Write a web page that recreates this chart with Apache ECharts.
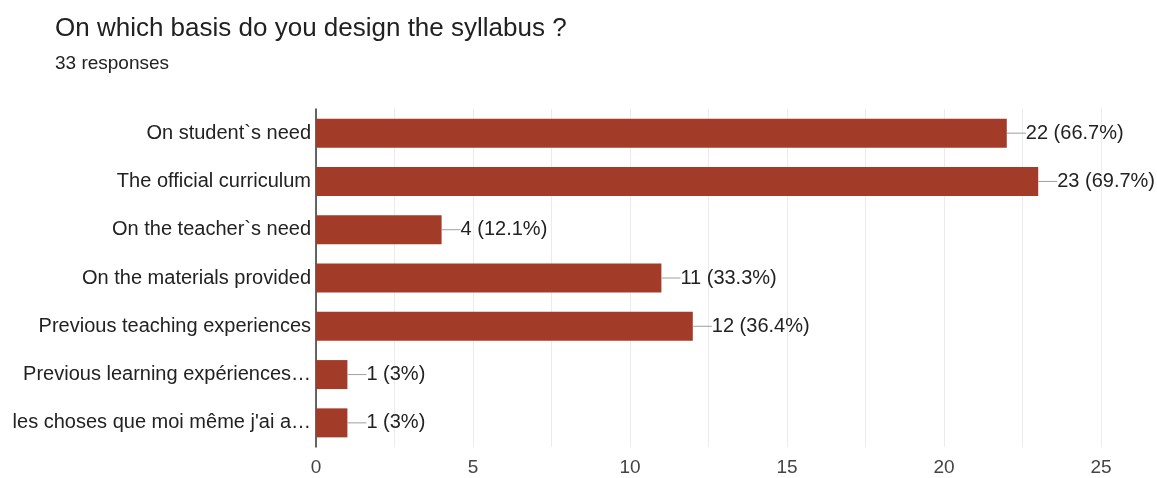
<!DOCTYPE html>
<html>
<head>
<meta charset="utf-8">
<script src="https://cdn.jsdelivr.net/npm/echarts@6/dist/echarts.min.js"></script>
<style>
  html, body { margin: 0; padding: 0; background: #fff; }
  #chart { width: 1157px; height: 478px; }
</style>
</head>
<body>
<div id="chart"></div>
<script>
const categories = [
  'On student`s need',
  'The official curriculum',
  'On the teacher`s need',
  'On the materials provided',
  'Previous teaching experiences',
  'Previous learning expériences…',
  'les choses que moi même j\'ai a…'
];
const counts = [22, 23, 4, 11, 12, 1, 1];
const percents = ['66.7%', '69.7%', '12.1%', '33.3%', '36.4%', '3%', '3%'];
const xTicks = [0, 5, 10, 15, 20, 25];

const chart = echarts.init(document.getElementById('chart'));
const font = '"Liberation Sans", Arial, sans-serif';

chart.setOption({
  animation: false,
  textStyle: { fontFamily: font },
  title: {
    text: 'On which basis do you design the syllabus ?',
    subtext: '33 responses',
    left: 50,
    top: 11,
    itemGap: 12,
    textStyle: { fontSize: 26, fontWeight: 'normal', color: '#212121', fontFamily: font },
    subtextStyle: { fontSize: 19, color: '#212121', fontFamily: font }
  },
  grid: { left: 316, right: 56, top: 109, bottom: 31, containLabel: false },
  xAxis: {
    type: 'value',
    min: 0,
    max: 25,
    interval: 2.5,
    axisLine: { show: false },
    axisTick: { show: false },
    splitLine: { lineStyle: { color: '#ebebeb', width: 1 } },
    axisLabel: {
      fontSize: 19,
      color: '#444',
      margin: 11,
      formatter: v => xTicks.includes(v) ? String(v) : ''
    }
  },
  yAxis: {
    type: 'category',
    inverse: true,
    data: categories,
    axisLine: { show: true, lineStyle: { color: '#333', width: 1.5 } },
    axisTick: { show: false },
    axisLabel: { fontSize: 20, color: '#222', margin: 5 }
  },
  series: [{
    type: 'bar',
    data: counts,
    barWidth: 29,
    itemStyle: { color: '#a33b29' },
    label: {
      show: true,
      position: 'right',
      distance: 0,
      formatter: p => '{l|}{v|' + p.value + ' (' + percents[p.dataIndex] + ')}',
      rich: {
        l: { width: 19, height: 1, backgroundColor: '#9e9e9e', verticalAlign: 'middle' },
        v: { fontSize: 20, color: '#222', fontFamily: font, verticalAlign: 'middle' }
      }
    }
  }]
});
</script>
</body>
</html>
